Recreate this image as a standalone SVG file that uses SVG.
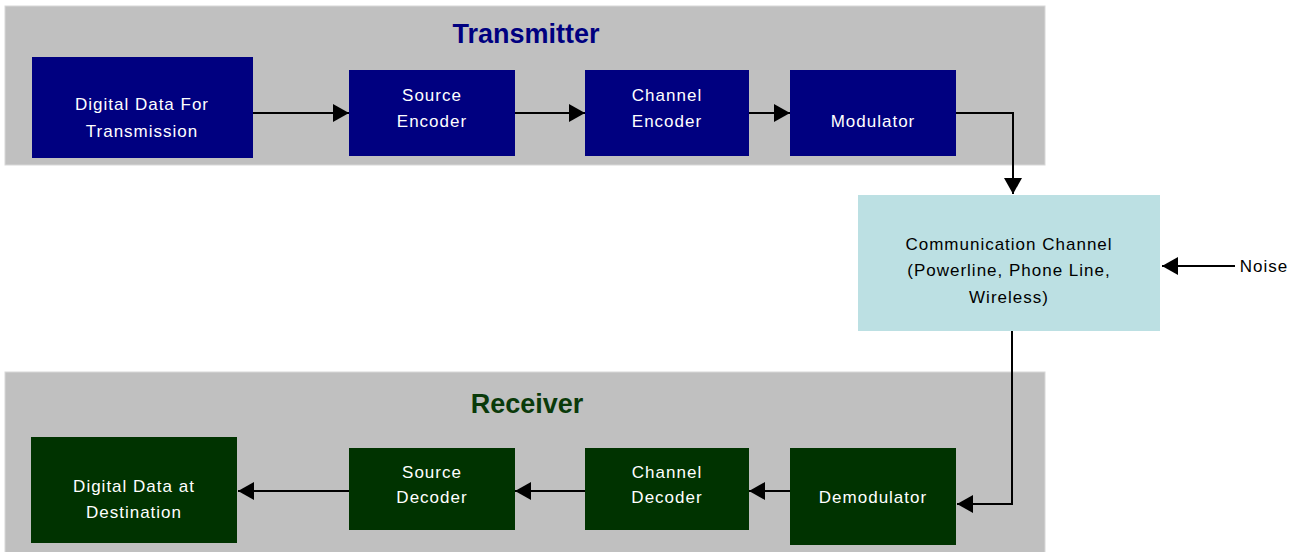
<svg xmlns="http://www.w3.org/2000/svg" width="1304" height="552" viewBox="0 0 1304 552">
<style>
.panel{fill:#c0c0c0;stroke:#d8d8d8;stroke-width:1}
.tx{fill:#000080}
.rx{fill:#003300}
.ch{fill:#bce0e3}
.lbl{font-family:"Liberation Sans",Arial,sans-serif;font-size:17px;fill:#ffffff;text-anchor:middle;letter-spacing:1px}
.dark{fill:#000000}
.title{font-family:"Liberation Sans",Arial,sans-serif;font-size:27px;font-weight:bold;text-anchor:middle}
.conn{fill:none;stroke:#000000;stroke-width:2}
</style>
<defs>
<marker id="arr" viewBox="0 0 16 18" refX="16" refY="9" markerWidth="16" markerHeight="18" markerUnits="userSpaceOnUse" orient="auto">
<path d="M0,0 L16,9 L0,18 Z" fill="#000000"/>
</marker>
</defs>
<rect width="1304" height="552" fill="#ffffff"/>
<g id="transmitter-panel">
<rect class="panel" x="5" y="6" width="1040" height="159"/>
<text class="title" x="526" y="43" fill="#000080">Transmitter</text>
</g>
<g id="receiver-panel">
<rect class="panel" x="5" y="372" width="1040" height="182"/>
<text class="title" x="527" y="413" fill="#0a3a0a">Receiver</text>
</g>
<g id="connectors">
<line class="conn" x1="253" y1="113" x2="349" y2="113" marker-end="url(#arr)"/>
<line class="conn" x1="515" y1="113" x2="585" y2="113" marker-end="url(#arr)"/>
<line class="conn" x1="749" y1="113" x2="790" y2="113" marker-end="url(#arr)"/>
<polyline class="conn" points="956,113 1013,113 1013,194" marker-end="url(#arr)"/>
<line class="conn" x1="1235" y1="266" x2="1162" y2="266" marker-end="url(#arr)"/>
<polyline class="conn" points="1012,331 1012,504 957,504" marker-end="url(#arr)"/>
<line class="conn" x1="790" y1="491" x2="749" y2="491" marker-end="url(#arr)"/>
<line class="conn" x1="585" y1="491" x2="515" y2="491" marker-end="url(#arr)"/>
<line class="conn" x1="349" y1="491" x2="238" y2="491" marker-end="url(#arr)"/>
</g>
<g id="digital-data-tx">
<rect class="tx" x="32" y="57" width="221" height="101"/>
<text class="lbl" x="142" y="110">Digital Data For</text>
<text class="lbl" x="142" y="137">Transmission</text>
</g>
<g id="source-encoder">
<rect class="tx" x="349" y="70" width="166" height="86"/>
<text class="lbl" x="432" y="101">Source</text>
<text class="lbl" x="432" y="127">Encoder</text>
</g>
<g id="channel-encoder">
<rect class="tx" x="585" y="70" width="164" height="86"/>
<text class="lbl" x="667" y="101">Channel</text>
<text class="lbl" x="667" y="127">Encoder</text>
</g>
<g id="modulator">
<rect class="tx" x="790" y="70" width="166" height="86"/>
<text class="lbl" x="873" y="127">Modulator</text>
</g>
<g id="communication-channel">
<rect class="ch" x="858" y="195" width="302" height="136"/>
<text class="lbl dark" x="1009" y="250">Communication Channel</text>
<text class="lbl dark" x="1009" y="276">(Powerline, Phone Line,</text>
<text class="lbl dark" x="1009" y="303">Wireless)</text>
</g>
<g id="noise">
<text class="lbl dark" x="1264" y="272">Noise</text>
</g>
<g id="demodulator">
<rect class="rx" x="790" y="448" width="166" height="97"/>
<text class="lbl" x="873" y="503">Demodulator</text>
</g>
<g id="channel-decoder">
<rect class="rx" x="585" y="448" width="164" height="82"/>
<text class="lbl" x="667" y="478">Channel</text>
<text class="lbl" x="667" y="503">Decoder</text>
</g>
<g id="source-decoder">
<rect class="rx" x="349" y="448" width="166" height="82"/>
<text class="lbl" x="432" y="478">Source</text>
<text class="lbl" x="432" y="503">Decoder</text>
</g>
<g id="digital-data-rx">
<rect class="rx" x="31" y="437" width="206" height="106"/>
<text class="lbl" x="134" y="492">Digital Data at</text>
<text class="lbl" x="134" y="518">Destination</text>
</g>
</svg>
